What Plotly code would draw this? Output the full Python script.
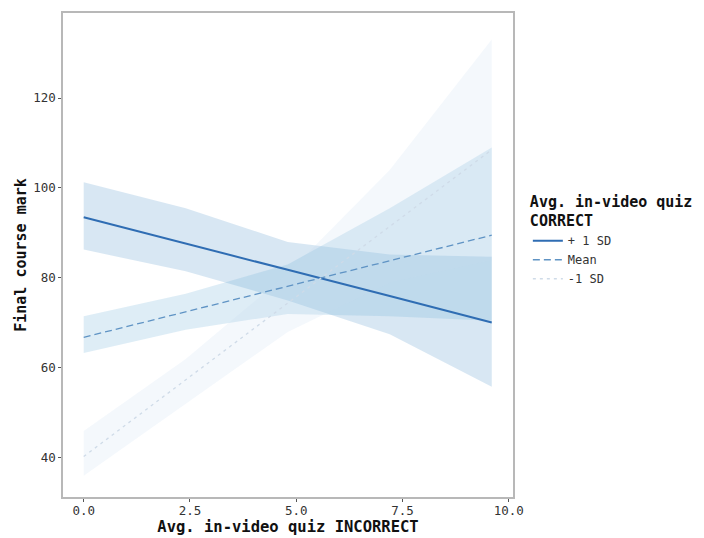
import plotly.graph_objects as go

# ---- data ----
x_vals = [0.0, 2.4, 4.8, 7.2, 9.6]

plus_line = [93.5, 87.6, 81.8, 76.0, 70.1]
plus_upper = [101.3, 95.5, 88.0, 85.2, 84.7]
plus_lower = [86.3, 81.5, 75.0, 67.5, 55.8]

mean_line = [66.8, 72.5, 78.2, 83.8, 89.5]
mean_upper = [71.5, 76.5, 83.0, 95.5, 109.0]
mean_lower = [63.3, 68.5, 72.0, 71.5, 70.5]

minus_line = [40.3, 57.4, 74.4, 91.5, 108.5]
minus_upper = [46.0, 62.0, 81.0, 104.0, 133.0]
minus_lower = [36.0, 52.0, 68.0, 79.0, 84.0]

series_names = ["+ 1 SD", "Mean", "-1 SD"]
x_ticks = [0, 2.5, 5, 7.5, 10]
y_ticks = [40, 60, 80, 100, 120]

# ---- styles ----
line_colors = ["#2f6db3", "#5f93c4", "#cfdbe8"]
fill_colors = ["rgba(49,130,189,0.19)", "rgba(107,174,214,0.22)", "rgba(198,219,239,0.20)"]
dashes = ["solid", "7px,4px", "3px,4px"]

lines = [plus_line, mean_line, minus_line]
uppers = [plus_upper, mean_upper, minus_upper]
lowers = [plus_lower, mean_lower, minus_lower]

fig = go.Figure()

for i in range(3):
    fig.add_trace(go.Scatter(x=x_vals, y=lowers[i], mode="lines",
                             line=dict(width=0, color=fill_colors[i]),
                             showlegend=False, hoverinfo="skip"))
    fig.add_trace(go.Scatter(x=x_vals, y=uppers[i], mode="lines",
                             line=dict(width=0, color=fill_colors[i]),
                             fill="tonexty", fillcolor=fill_colors[i],
                             showlegend=False, hoverinfo="skip"))

for i in range(3):
    fig.add_trace(go.Scatter(x=x_vals, y=lines[i], mode="lines", name=series_names[i],
                             line=dict(color=line_colors[i], width=2 if i == 0 else 1.3,
                                       dash=dashes[i])))

mono = "DejaVu Sans Mono"

fig.update_layout(
    width=704, height=538,
    margin=dict(l=63, r=191, t=13, b=41, autoexpand=False),
    paper_bgcolor="white", plot_bgcolor="white",
    font=dict(family=mono, size=12, color="#333333"),
    showlegend=True,
    legend=dict(
        title=dict(text="<b>Avg. in-video quiz<br>CORRECT</b>",
                   font=dict(family=mono, size=15, color="#111111")),
        font=dict(family=mono, size=12, color="#333333"),
        x=1.033, xanchor="left", y=0.64, yanchor="top",
        traceorder="normal",
        bgcolor="rgba(0,0,0,0)", tracegroupgap=0,
    ),
)

fig.update_xaxes(
    range=[-0.487, 10.1], tickvals=x_ticks, tickformat=".1f",
    showgrid=False, zeroline=False, automargin=False,
    showline=True, mirror=True, linecolor="#b8b8b8", linewidth=1.5,
    ticks="outside", ticklen=3, tickcolor="#555555", ticklabelstandoff=-2,
    tickfont=dict(family=mono, size=12.5, color="#333333"),
    title=dict(text="<b>Avg. in-video quiz INCORRECT</b>",
               font=dict(family=mono, size=15.5, color="#111111"), standoff=0),
)
fig.update_yaxes(
    range=[31.3, 138.9], tickvals=y_ticks,
    showgrid=False, zeroline=False, automargin=False,
    showline=True, mirror=True, linecolor="#b8b8b8", linewidth=1.5,
    ticks="outside", ticklen=3, tickcolor="#555555",
    tickfont=dict(family=mono, size=12.5, color="#333333"),
    title=dict(text="<b>Final course mark</b>",
               font=dict(family=mono, size=15, color="#111111"), standoff=3),
)

fig.write_html("out.html", config={"displayModeBar": False},
               post_script="document.body.style.margin='0px';")
